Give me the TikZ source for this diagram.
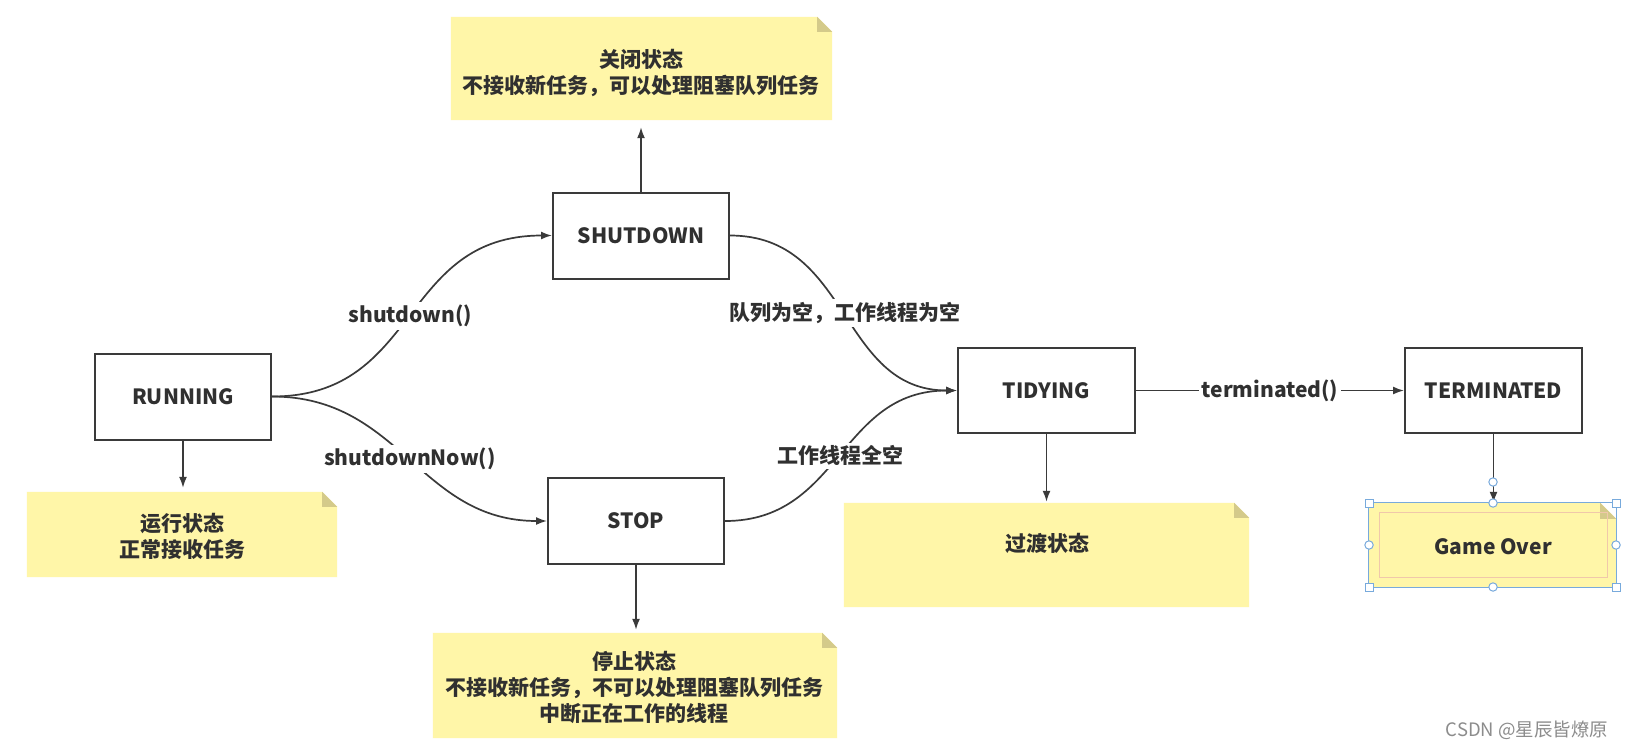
\documentclass[tikz,border=0pt]{standalone}
\usepackage{fontspec}
\setmainfont{Noto Sans CJK SC}
\usetikzlibrary{arrows.meta,backgrounds}
\definecolor{notey}{RGB}{255,246,168}
\definecolor{foldc}{RGB}{212,202,138}
\definecolor{linec}{RGB}{58,58,58}
\definecolor{textc}{RGB}{48,48,48}
\definecolor{selb}{RGB}{120,170,220}
\definecolor{pinkc}{RGB}{240,200,170}
\definecolor{wmark}{RGB}{140,140,140}
\newcommand{\fsz}{\fontsize{21}{26}\selectfont}
\newcommand{\notefill}[2]{%
  \fill[notey] (#1.south west) -- (#1.north west) -- ([xshift=-#2pt]#1.north east) -- ([yshift=-#2pt]#1.north east) -- (#1.south east) -- cycle;
  \fill[foldc] ([xshift=-#2pt]#1.north east) -- ([xshift=-#2pt,yshift=-#2pt]#1.north east) -- ([yshift=-#2pt]#1.north east) -- cycle;}
\begin{document}
\begin{tikzpicture}[x=1pt,y=-1pt,
  state/.style={draw=linec,line width=2pt,fill=white,minimum width=176pt,minimum height=86pt,inner sep=0pt,font=\fsz\bfseries,text=textc},
  conn/.style={draw=linec,line width=1.7pt,-{Latex[length=11pt,width=8pt]}},
  lbl/.style={fill=white,inner sep=3pt,font=\fsz\bfseries,text=textc},
  notebg/.style={inner sep=0pt,draw=none},
  notetxt/.style={align=center,inner sep=0pt,font=\fsz\bfseries,text=textc},
  handle/.style={draw=selb,fill=white,line width=1pt}]
\useasboundingbox (0,0) rectangle (1629,747);

% state boxes
\node[state] (run) at (183,396.5) {RUNNING};
\node[state] (shut) at (641,235.5) {SHUTDOWN};
\node[state] (stop) at (636,521) {STOP};
\node[state,minimum width=177pt,minimum height=85pt] (tidy) at (1046.5,390.5) {TIDYING};
\node[state,minimum width=177pt,minimum height=85pt] (term) at (1493.5,390.5) {TERMINATED};

% notes (shapes)
\node[notebg,minimum width=381pt,minimum height=103pt] (nshut) at (641.5,68.5) {};
\node[notebg,minimum width=310pt,minimum height=85pt] (nrun) at (182,534.5) {};
\node[notebg,minimum width=404pt,minimum height=105pt] (nstop) at (635,685.5) {};
\node[notebg,minimum width=405pt,minimum height=104pt] (ntidy) at (1046.5,555) {};
\node[notebg,minimum width=247pt,minimum height=84pt] (game) at (1492.5,545) {};

% note texts
\node[notetxt] (tshut) at (641,73.5) {关闭状态\\不接收新任务，可以处理阻塞队列任务};
\node[notetxt] (trun) at (182.5,536) {运行状态\\正常接收任务};
\node[notetxt] (tstop) at (634,687.5) {停止状态\\不接收新任务，不可以处理阻塞队列任务\\中断正在工作的线程};
\node[notetxt] (ttidy) at (1047,543) {过渡状态};
\node[notetxt] (tgame) at (1493,547) {Game Over};

\begin{scope}[on background layer]
  \fill[white] (0,0) rectangle (1629,747);
  \notefill{nshut}{15}
  \notefill{nrun}{15}
  \notefill{nstop}{15}
  \notefill{ntidy}{15}
  \notefill{game}{16}
  \draw[pinkc,line width=0.8pt] (1379,512) rectangle (1607,577);
  \draw[selb,line width=1pt] (game.south west) rectangle (game.north east);
\end{scope}

% transitions
\draw[conn] (run.east) .. controls +(149,0) and +(-153,0) .. (shut.west)
  node[lbl,pos=0.5] (l1) {shutdown()};
\draw[conn] (run.east) .. controls +(129,0) and +(-128,0) .. (stop.west)
  node[lbl,pos=0.5] (l2) {shutdownNow()};
\draw[conn] (shut.east) .. controls +(121,0) and +(-118,0) .. (tidy.west)
  node[lbl,pos=0.5] (l3) {队列为空，工作线程为空};
\draw[conn] (stop.east) .. controls +(116,0) and +(-118,0) .. (tidy.west)
  node[lbl,pos=0.5] (l4) {工作线程全空};
\draw[conn] (tidy.east) -- (term.west) node[lbl,midway] (l5) {terminated()};

% state to note arrows
\draw[conn,shorten >=4pt] (run.south) -- (nrun.north -| run.south);
\draw[conn,shorten >=7pt] (shut.north) -- (nshut.south -| shut.north);
\draw[conn,shorten >=3pt] (stop.south) -- (nstop.north -| stop.south);
\draw[conn,shorten >=1pt] (tidy.south) -- (ntidy.north -| tidy.south);
\draw[conn] (term.south) -- (game.north -| term.south);

% selection handles
\foreach \p in {(1369,503),(1616,503),(1369,587),(1616,587)}
  \draw[handle] \p ++(-4,-4) rectangle ++(8,8);
\foreach \p in {(1493,503),(1369,545),(1616,545),(1493,587),(1493,482)}
  \draw[handle] \p circle[radius=4.2pt];

% watermark
\node[font=\fontsize{18.5}{22}\selectfont,text=wmark,inner sep=0pt] (wm) at (1527,730) {CSDN @星辰皆燎原};
\end{tikzpicture}
\end{document}
